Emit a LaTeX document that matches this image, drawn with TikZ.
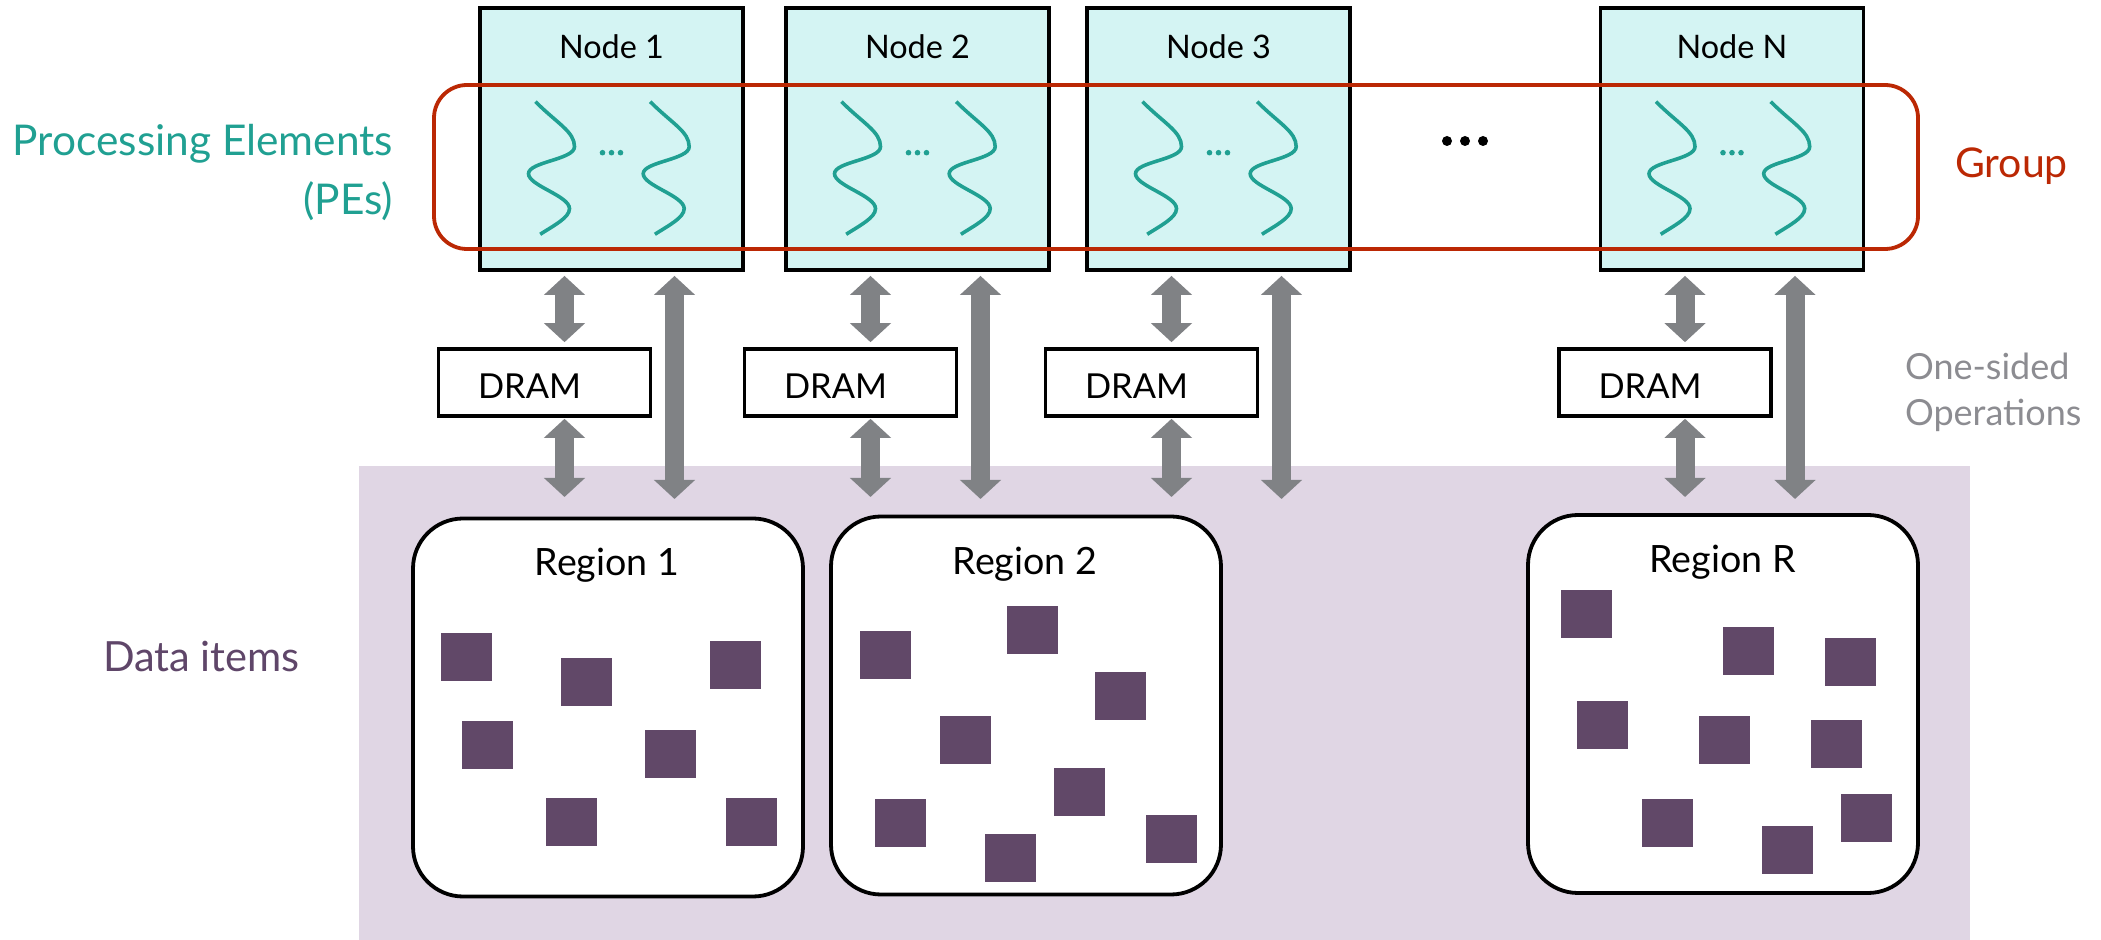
\documentclass[tikz,border=0pt]{standalone}
\usepackage{fontspec}
\setmainfont{Lato}
\usetikzlibrary{arrows.meta}

\definecolor{pefill}{RGB}{212,244,243}
\definecolor{peteal}{RGB}{32,160,146}
\definecolor{grpred}{RGB}{187,40,4}
\definecolor{opgray}{RGB}{128,130,133}
\definecolor{optext}{RGB}{140,140,145}
\definecolor{databg}{RGB}{224,214,228}
\definecolor{itemfill}{RGB}{97,72,104}
\definecolor{itemtext}{RGB}{95,70,105}

\begin{document}
\begin{tikzpicture}[x=0.5pt,y=-0.5pt,
  pebox/.style={draw=black,line width=1.9pt,fill=pefill,minimum width=131.5pt,minimum height=131pt,inner sep=0pt},
  drambox/.style={draw=black,line width=1.8pt,fill=white,minimum width=106pt,minimum height=33.5pt,inner sep=0pt},
  regionbox/.style={draw=black,line width=1.9pt,fill=white,rounded corners=25pt,minimum width=195pt,minimum height=189pt,inner sep=0pt},
  item/.style={fill=itemfill,minimum width=25.5pt,minimum height=24pt,inner sep=0pt},
  biarrow/.style={draw=opgray,line width=9.5pt,{Triangle[width=20pt,length=9.5pt]}-{Triangle[width=20pt,length=9.5pt]}},
  wave/.style={draw=peteal,line width=1.8pt},
  thread/.pic={\draw[wave] (0,0) .. controls (22,22) and (39,30) .. (39,45)
      .. controls (39,58) and (-7,60) .. (-7,72)
      .. controls (-7,84) and (34,94) .. (34,107)
      .. controls (34,116) and (18,124) .. (4.7,132.6);},
  txt/.style={inner sep=0pt,outer sep=0pt},
  nodelabel/.style={txt,anchor=base,font=\fontsize{16.2pt}{19pt}\selectfont},
  dramlabel/.style={txt,anchor=base,font=\fontsize{17.2pt}{20pt}\selectfont},
  regionlabel/.style={txt,anchor=base,font=\fontsize{18.8pt}{22pt}\selectfont},
  pelabel/.style={txt,anchor=base east,text=peteal,font=\fontsize{21.2pt}{25pt}\selectfont},
  grouplabel/.style={txt,anchor=base west,text=grpred,font=\fontsize{20.5pt}{24pt}\selectfont},
  oplabel/.style={txt,anchor=base west,text=optext,font=\fontsize{18pt}{22pt}\selectfont},
  datalabel/.style={txt,anchor=base west,text=itemtext,font=\fontsize{20.8pt}{24pt}\selectfont},
]
\useasboundingbox (0,0) rectangle (2101,940);

% shared data space
\node[fill=databg,minimum width=805.5pt,minimum height=237pt,inner sep=0pt,anchor=north west] (dataspace) at (359,466) {};

% compute nodes with their threads, DRAM and links
\foreach \id/\cx in {1/611.5,2/917.5,3/1218.5,N/1732} {
  \node[pebox] (pe\id) at (\cx,139) {};
  \node[nodelabel] (pe\id-title) at (\cx,59) {Node \id};
  \pic at (\cx-76,101.7) {thread};
  \pic at (\cx+38.7,101.7) {thread};
  \foreach \dx in {-9,0,9}
    \fill[peteal] (\cx+\dx,152.7) circle (1.4pt);
  \node[drambox] (dram\id) at (\cx-67,382.5) {};
  \node[dramlabel] (dram\id-text) at (\cx-82,399) {DRAM};
  \coordinate (s\id) at (\cx-47,0);
  \coordinate (sb\id) at (\cx-47,497);
  \coordinate (l\id) at (\cx+63,499);
  \draw[biarrow,shorten <=2pt,shorten >=2.5pt] (pe\id.south -| s\id) -- (dram\id.north -| s\id);
  \draw[biarrow,shorten <=0.5pt] (dram\id.south -| s\id) -- (sb\id);
  \draw[biarrow,shorten <=2pt] (pe\id.south -| l\id) -- (l\id);
}

% group of PEs
\node[draw=grpred,line width=1.9pt,rounded corners=16.5pt,minimum width=742pt,minimum height=82pt,inner sep=0pt] (group) at (1176,167) {};

% ellipsis between node 3 and node N
\foreach \x in {1447,1465,1483}
  \fill[black] (\x,141) circle (2.5pt);

% memory regions
\node[regionbox] (reg1) at (608,707.5) {};
\node[regionbox] (reg2) at (1026,705.5) {};
\node[regionbox] (regR) at (1723,704) {};
\node[regionlabel] (reg1-title) at (607,576) {Region 1};
\node[regionlabel] (reg2-title) at (1025,575) {Region 2};
\node[regionlabel] (regR-title) at (1722.5,573) {Region R};

% data items
\foreach \x/\y [count=\i] in {466.5/657,586.5/682,735.5/665,487.5/745,670.5/754,571.5/822,751.5/822}
  \node[item] (r1item\i) at (\x,\y) {};
\foreach \x/\y [count=\i] in {885.5/655,1032.5/630,1120.5/696,965.5/740,1079.5/792,900.5/823,1010.5/858,1171.5/839}
  \node[item] (r2item\i) at (\x,\y) {};
\foreach \x/\y [count=\i] in {1586.5/614,1748.5/651,1850.5/662,1602.5/725,1724.5/740,1836.5/744,1667.5/823,1787.5/850,1866.5/818}
  \node[item] (rRitem\i) at (\x,\y) {};

% side labels
\node[pelabel] (pe-caption1) at (393,156) {Processing Elements};
\node[pelabel] (pe-caption2) at (393,215) {(PEs)};
\node[grouplabel] (group-caption) at (1955,178) {Group};
\node[oplabel] (op-caption1) at (1905,380) {One-sided};
\node[oplabel] (op-caption2) at (1905,426) {Operations};
\node[datalabel] (data-caption) at (103,672) {Data items};
\end{tikzpicture}
\end{document}
